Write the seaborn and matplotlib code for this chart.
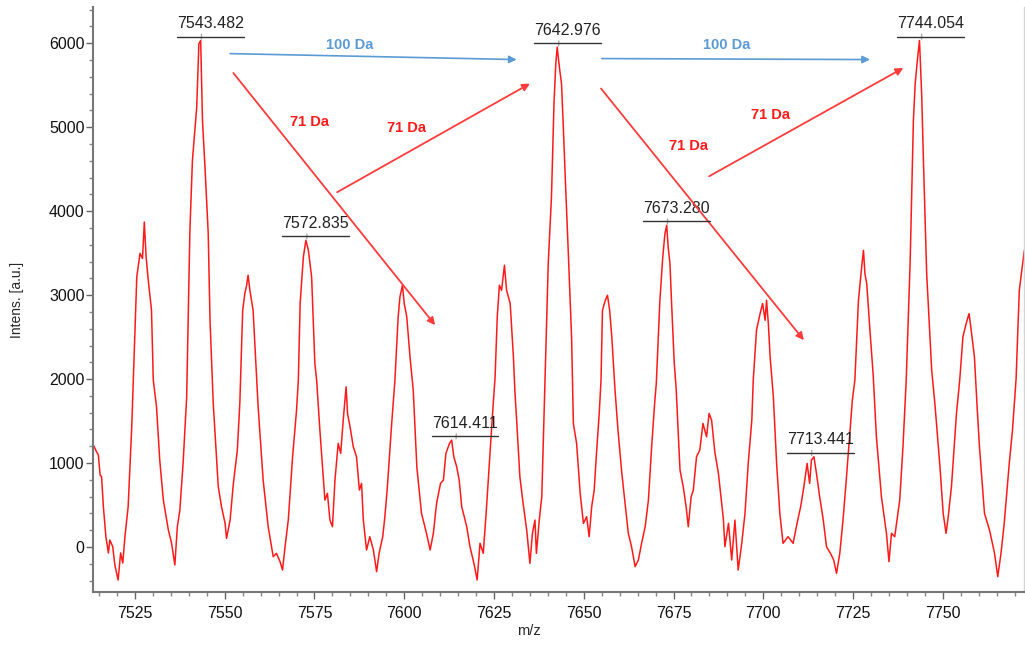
import matplotlib
matplotlib.use("Agg")
import matplotlib.pyplot as plt
from matplotlib.lines import Line2D
from matplotlib.ticker import MultipleLocator
from matplotlib.transforms import IdentityTransform
import pandas as pd
import seaborn as sns

# spectrum (m/z, intensity)
mz = [
    7513.4, 7514.3, 7514.8, 7515.3, 7515.7, 7516.2, 7516.9, 7517.6, 7518.0, 7518.8,
    7519.4, 7520.3, 7521.0, 7521.6, 7522.2, 7523.1, 7524.1, 7525.5, 7526.4, 7527.1,
    7527.6, 7528.1, 7528.7, 7529.6, 7530.1, 7531.0, 7531.9, 7532.9, 7534.3, 7535.2,
    7536.1, 7536.8, 7537.5, 7538.4, 7539.4, 7540.3, 7541.0, 7542.2, 7542.8, 7543.3,
    7543.8, 7544.5, 7545.4, 7545.9, 7546.8, 7548.2, 7549.1, 7550.1, 7550.5, 7551.5,
    7552.4, 7553.5, 7554.2, 7555.0, 7555.6, 7556.1, 7556.5, 7557.0, 7557.9, 7558.9,
    7559.3, 7560.7, 7562.1, 7563.5, 7564.4, 7565.4, 7566.1, 7566.8, 7567.7, 7568.9,
    7570.0, 7570.5, 7571.0, 7571.9, 7572.6, 7573.3, 7574.2, 7575.1, 7575.6, 7576.5,
    7577.5, 7577.9, 7578.6, 7579.3, 7580.0, 7580.7, 7581.6, 7582.3, 7583.0, 7583.8,
    7584.2, 7584.9, 7585.8, 7586.7, 7587.5, 7588.1, 7588.6, 7589.5, 7590.4, 7591.4,
    7592.3, 7593.0, 7594.0, 7594.6, 7595.3, 7596.5, 7597.4, 7598.3, 7598.8, 7599.5,
    7600.0, 7600.7, 7601.6, 7602.5, 7603.5, 7604.8, 7606.2, 7607.2, 7608.1, 7609.0,
    7610.1, 7610.9, 7611.6, 7612.6, 7613.2, 7613.8, 7614.6, 7615.3, 7616.0, 7617.4,
    7618.3, 7619.4, 7620.3, 7621.1, 7622.0, 7622.8, 7623.7, 7624.6, 7625.3, 7625.9,
    7626.5, 7627.1, 7627.9, 7628.5, 7629.5, 7630.4, 7630.8, 7631.3, 7632.2, 7633.1,
    7634.1, 7635.0, 7635.7, 7636.4, 7636.8, 7637.6, 7638.3, 7639.2, 7640.1, 7641.0,
    7641.7, 7642.2, 7642.6, 7643.2, 7643.8, 7644.3, 7644.8, 7645.7, 7646.6, 7647.1,
    7648.0, 7649.0, 7649.9, 7650.8, 7651.5, 7652.2, 7652.9, 7653.6, 7654.3, 7654.8,
    7655.2, 7656.0, 7656.6, 7657.2, 7657.8, 7658.7, 7659.6, 7660.6, 7661.8, 7662.4,
    7663.3, 7664.3, 7665.2, 7666.1, 7667.1, 7668.0, 7668.9, 7669.8, 7670.2, 7671.2,
    7672.0, 7672.6, 7673.1, 7673.5, 7674.0, 7674.5, 7675.2, 7675.7, 7676.8, 7677.7,
    7678.5, 7679.1, 7679.9, 7680.5, 7681.4, 7682.3, 7683.2, 7684.2, 7684.9, 7685.6,
    7686.5, 7687.5, 7688.9, 7689.3, 7690.3, 7691.2, 7692.1, 7693.0, 7694.0, 7694.9,
    7695.8, 7696.8, 7697.2, 7698.1, 7699.1, 7699.8, 7700.5, 7700.9, 7701.4, 7701.9,
    7702.8, 7703.7, 7704.6, 7705.5, 7706.9, 7708.3, 7709.4, 7710.4, 7711.3, 7712.2,
    7712.9, 7713.4, 7714.1, 7714.8, 7715.7, 7716.7, 7717.6, 7718.7, 7719.6, 7720.4,
    7721.3, 7722.2, 7723.1, 7724.1, 7724.8, 7725.5, 7726.5, 7727.4, 7727.9, 7728.3,
    7728.8, 7729.7, 7730.6, 7731.5, 7732.9, 7734.3, 7735.0, 7735.7, 7736.6, 7738.0,
    7738.9, 7739.8, 7740.9, 7741.8, 7742.3, 7742.9, 7743.5, 7744.1, 7744.6, 7745.5,
    7746.9, 7747.8, 7749.2, 7750.1, 7750.9, 7751.5, 7752.4, 7753.8, 7754.7, 7755.6,
    7756.5, 7757.3, 7757.9, 7758.8, 7759.6, 7760.2, 7761.6, 7763.0, 7764.4, 7765.3,
    7766.2, 7767.1, 7768.5, 7769.4, 7770.4, 7771.3, 7772.7,
]
intensity = [
    1214, 1134, 1095, 857, 837, 480, 123, -71, 83, 4,
    -214, -393, -71, -190, 123, 480, 1432, 3216, 3497, 3437,
    3871, 3455, 3177, 2820, 1987, 1670, 1035, 559, 202, 44,
    -214, 242, 440, 996, 1789, 3772, 4605, 5240, 5994, 6033,
    5081, 4525, 3736, 2700, 1710, 718, 480, 282, 103, 321,
    757, 1150, 1710, 2820, 3020, 3118, 3237, 3058, 2820, 1987,
    1670, 797, 242, -115, -75, -175, -274, 4, 321, 1075,
    1630, 1987, 2900, 3455, 3653, 3534, 3217, 2186, 1987, 1392,
    797, 559, 639, 321, 242, 797, 1234, 1115, 1511, 1908,
    1591, 1432, 1194, 1075, 678, 758, 321, -36, 123, -36,
    -294, -75, 123, 361, 718, 1472, 1987, 2741, 2979, 3118,
    2900, 2741, 2265, 1868, 956, 401, 163, -36, 163, 520,
    758, 797, 1115, 1234, 1273, 1075, 956, 797, 480, 242,
    4, -194, -393, 44, -75, 401, 996, 1591, 2027, 2741,
    3118, 3058, 3356, 3058, 2900, 2265, 1868, 1511, 837, 520,
    202, -194, 163, 321, -75, 321, 599, 1987, 3376, 4169,
    5280, 5756, 5954, 5716, 5518, 5002, 4446, 3494, 2503, 1472,
    1234, 639, 282, 361, 123, 480, 678, 1154, 1591, 1987,
    2820, 2939, 2999, 2820, 2503, 1868, 1353, 877, 401, 163,
    4, -234, -155, 44, 242, 559, 1194, 1749, 1950, 2939,
    3455, 3733, 3832, 3574, 3376, 2860, 2186, 1908, 916, 718,
    480, 242, 599, 678, 1075, 1154, 1472, 1313, 1591, 1511,
    1130, 877, 321, 4, 282, -155, 321, -274, 44, 401,
    996, 1511, 1987, 2582, 2780, 2900, 2701, 2939, 2662, 2265,
    1789, 1000, 401, 44, 123, 44, 282, 480, 718, 996,
    758, 1035, 1075, 877, 599, 321, 4, -75, -155, -313,
    -75, 321, 797, 1353, 1749, 1987, 2939, 3336, 3534, 3257,
    3138, 2582, 2050, 1313, 599, 163, -175, 163, 123, 559,
    1194, 1987, 3400, 5081, 5518, 5795, 6033, 5399, 4600, 3257,
    2106, 1700, 956, 401, 163, 361, 718, 1591, 1987, 2503,
    2662, 2780, 2582, 2265, 1630, 1194, 401, 202, -75, -353,
    -75, 282, 996, 1392, 2000, 3058, 3534,
]

peak_labels = [7543.482, 7572.835, 7614.411, 7642.976, 7673.280, 7713.441, 7744.054]

# mass-difference arrows: (start m/z, start int, end m/z, end int, text m/z, text int)
blue_arrows = [
    (7551.5, 5877, 7631.3, 5806, 7584.9, 5976),
    (7655.0, 5818, 7729.7, 5806, 7689.8, 5976),
]
red_arrows = [
    (7552.4, 5646, 7608.6, 2643, 7573.7, 5063),
    (7581.3, 4226, 7635.0, 5520, 7600.7, 4992),
    (7654.8, 5461, 7711.3, 2464, 7679.1, 4777),
    (7684.9, 4416, 7739.0, 5706, 7701.9, 5141),
]

df = pd.DataFrame({"mz": mz, "intensity": intensity})

sns.set_style("ticks")
plt.rcParams["font.family"] = ["Liberation Sans", "DejaVu Sans"]

fig = plt.figure(figsize=(10.25, 6.53), dpi=100)
ax = fig.add_axes([0.0907, 0.0934, 0.9083, 0.8956])

sns.lineplot(data=df, x="mz", y="intensity", ax=ax, color="#ff1a1a",
             linewidth=1.1, sort=False, estimator=None)

ax.set_xlim(7513.3, 7772.6)
ax.set_ylim(-536, 6430)
ax.xaxis.set_major_locator(MultipleLocator(25))
ax.xaxis.set_minor_locator(MultipleLocator(5))
ax.yaxis.set_major_locator(MultipleLocator(1000))
ax.yaxis.set_minor_locator(MultipleLocator(200))
ax.tick_params(which="major", length=5, width=1, color="#666666",
               labelsize=11.5, labelcolor="#111111")
ax.tick_params(which="minor", length=3, width=1, color="#888888")
ax.tick_params(axis="y", pad=1)
ax.tick_params(axis="x", pad=5)

for side in ["left", "bottom"]:
    ax.spines[side].set_color("#777777")
    ax.spines[side].set_linewidth(1.5)
ax.spines["top"].set_visible(False)
ax.spines["right"].set_color("#d5d5d5")
ax.spines["right"].set_linewidth(1)

ax.set_xlabel("m/z", fontsize=10.5)
ax.set_ylabel("Intens. [a.u.]", fontsize=10)
ax.xaxis.set_label_coords(0.468, -0.055)
ax.yaxis.set_label_coords(-0.074, 0.5)

# peak labels
label_texts = []
for p in peak_labels:
    near = df[(df["mz"] > p - 1.5) & (df["mz"] < p + 1.5)]
    top = near["intensity"].max()
    t = ax.annotate("%.3f" % p, xy=(p, top),
                    xytext=(9, 17), textcoords="offset pixels",
                    ha="center", va="center", fontsize=11.5, color="#222222",
                    arrowprops=dict(arrowstyle="-", color="#aaaaaa", lw=1,
                                    relpos=(0.37, 0.0), shrinkA=0, shrinkB=1))
    label_texts.append(t)

for x0, y0, x1, y1, tx, ty in blue_arrows:
    ax.annotate("", xy=(x1, y1), xytext=(x0, y0),
                arrowprops=dict(arrowstyle="-|>", color="#5b9bd5", lw=1.2,
                                mutation_scale=11, shrinkA=0, shrinkB=0))
    ax.text(tx, ty, "100 Da", color="#5b9bd5", fontsize=10.5,
            fontweight="bold", ha="center", va="center")

for x0, y0, x1, y1, tx, ty in red_arrows:
    ax.annotate("", xy=(x1, y1), xytext=(x0, y0),
                arrowprops=dict(arrowstyle="-|>", color="#ff3b3b", lw=1.3,
                                mutation_scale=11, shrinkA=0, shrinkB=0))
    ax.text(tx, ty, "71 Da", color="#ff1a1a", fontsize=10.5,
            fontweight="bold", ha="center", va="center")

# underline the peak labels (matplotlib has no underline text style)
fig.canvas.draw()
renderer = fig.canvas.get_renderer()
for t in label_texts:
    bb = t.get_window_extent(renderer)
    fig.add_artist(Line2D([bb.x0, bb.x1], [bb.y0 + 2.5, bb.y0 + 2.5],
                          transform=IdentityTransform(), color="#333333", lw=1))

fig.savefig("out.png", dpi=100)
